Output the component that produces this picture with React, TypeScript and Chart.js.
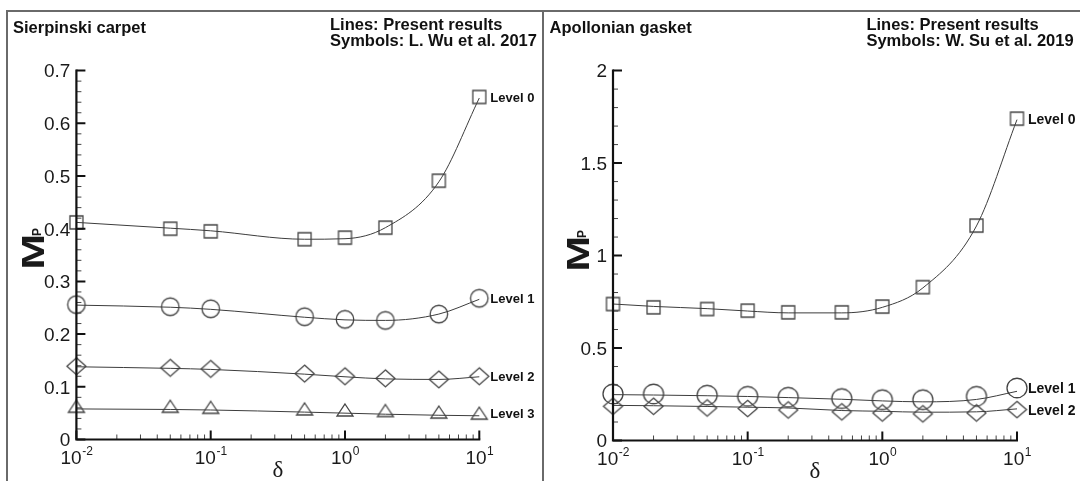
import React, { useEffect, useRef } from "react";
import { Chart, registerables } from "chart.js";
Chart.register(...registerables);

const SANS = '"Liberation Sans", Arial, Helvetica, sans-serif';
const SERIF = '"Liberation Serif", "Times New Roman", serif';

// ---------- Sierpinski carpet (left panel) ----------
const sierpDelta = [0.01, 0.05, 0.1, 0.5, 1, 2, 5, 10];
const sierpL0Sym = [0.412, 0.4, 0.395, 0.38, 0.383, 0.402, 0.491, 0.65];
const sierpL0Line = [0.412, 0.401, 0.396, 0.38, 0.381, 0.402, 0.489, 0.648];
const sierpL1Sym = [0.256, 0.252, 0.248, 0.233, 0.228, 0.226, 0.238, 0.268];
const sierpL1Line = [0.255, 0.251, 0.247, 0.232, 0.227, 0.226, 0.238, 0.266];
const sierpL2Sym = [0.139, 0.136, 0.134, 0.125, 0.12, 0.116, 0.114, 0.12];
const sierpL2Line = [0.138, 0.135, 0.133, 0.124, 0.119, 0.115, 0.114, 0.119];
const sierpL3Sym = [0.063, 0.063, 0.061, 0.058, 0.056, 0.055, 0.052, 0.05];
const sierpL3Line = [0.058, 0.057, 0.056, 0.052, 0.05, 0.048, 0.046, 0.045];
const sierpYMajor = [0, 0.1, 0.2, 0.3, 0.4, 0.5, 0.6, 0.7];
const sierpYLabels = ["0", "0.1", "0.2", "0.3", "0.4", "0.5", "0.6", "0.7"];
const sierpYMinorStep = 0.02;

// ---------- Apollonian gasket (right panel) ----------
const apolDelta = [0.01, 0.02, 0.05, 0.1, 0.2, 0.5, 1, 2, 5, 10];
const apolL0Sym = [0.738, 0.72, 0.711, 0.702, 0.693, 0.693, 0.724, 0.829, 1.162, 1.74];
const apolL0Line = [0.738, 0.725, 0.713, 0.7, 0.69, 0.69, 0.72, 0.825, 1.16, 1.735];
const apolL1Sym = [0.252, 0.252, 0.245, 0.239, 0.234, 0.227, 0.221, 0.221, 0.239, 0.284];
const apolL1Line = [0.248, 0.246, 0.242, 0.238, 0.232, 0.223, 0.214, 0.209, 0.222, 0.266];
const apolL2Sym = [0.185, 0.185, 0.176, 0.173, 0.165, 0.155, 0.149, 0.144, 0.149, 0.167];
const apolL2Line = [0.19, 0.188, 0.184, 0.18, 0.176, 0.162, 0.158, 0.153, 0.155, 0.171];
const apolYMajor = [0, 0.5, 1, 1.5, 2];
const apolYLabels = ["0", "0.5", "1", "1.5", "2"];
const apolYMinorStep = 0.1;

// ---------- shared x axis ----------
const xMajor = [0.01, 0.1, 1, 10];
const xMajorExp = ["-2", "-1", "0", "1"];
const xMinorDecades = [0.01, 0.1, 1];
const xMinorMult = [2, 3, 4, 5, 6, 7, 8, 9];

type SeriesSpec = { line: number[]; sym: number[]; shape: string; mw: number; mh: number; label: string };
type PanelSpec = {
  delta: number[];
  series: SeriesSpec[];
  yMax: number;
  yMajor: number[];
  yLabels: string[];
  yMinorStep: number;
  title: string;
  note1: string;
  note2: string;
  titleX: number;
  noteX: number;
  pad: { left: number; right: number; top: number; bottom: number };
  levelFont: number;
  mpX: number;
  mpY: number;
};

function makeMarker(shape: string, w: number, h: number): HTMLCanvasElement {
  const pad = 2;
  const c = document.createElement("canvas");
  c.width = Math.ceil(w + pad * 2);
  c.height = Math.ceil(h + pad * 2);
  const g = c.getContext("2d")!;
  const cx = c.width / 2, cy = c.height / 2;
  g.strokeStyle = "#444";
  g.lineWidth = 1.3;
  g.beginPath();
  if (shape === "square") g.rect(cx - w / 2, cy - h / 2, w, h);
  else if (shape === "circle") g.ellipse(cx, cy, w / 2, h / 2, 0, 0, Math.PI * 2);
  else if (shape === "diamond") {
    g.moveTo(cx, cy - h / 2);
    g.lineTo(cx + w / 2, cy);
    g.lineTo(cx, cy + h / 2);
    g.lineTo(cx - w / 2, cy);
    g.closePath();
  } else {
    g.moveTo(cx, cy - h / 2);
    g.lineTo(cx + w / 2, cy + h / 2);
    g.lineTo(cx - w / 2, cy + h / 2);
    g.closePath();
  }
  g.stroke();
  return c;
}

function drawDecor(chart: any, s: PanelSpec) {
  const ctx: CanvasRenderingContext2D = chart.ctx;
  const xs = chart.scales.x, ys = chart.scales.y;
  const L = xs.getPixelForValue(0.01);
  const R = xs.getPixelForValue(10);
  const B = ys.getPixelForValue(0);
  const T = ys.getPixelForValue(s.yMax);
  ctx.save();
  // minor ticks
  ctx.strokeStyle = "#444";
  ctx.lineWidth = 1;
  const ratio = Math.round((s.yMajor[1] - s.yMajor[0]) / s.yMinorStep);
  const nMinor = Math.round(s.yMax / s.yMinorStep);
  ctx.beginPath();
  for (let i = 1; i < nMinor; i++) {
    if (i % ratio === 0) continue;
    const y = ys.getPixelForValue(i * s.yMinorStep);
    ctx.moveTo(L, y);
    ctx.lineTo(L + 5, y);
  }
  for (const d of xMinorDecades) {
    for (const k of xMinorMult) {
      const x = xs.getPixelForValue(d * k);
      ctx.moveTo(x, B);
      ctx.lineTo(x, B - 5);
    }
  }
  ctx.stroke();
  // major ticks
  ctx.strokeStyle = "#111";
  ctx.lineWidth = 2;
  ctx.beginPath();
  for (const v of s.yMajor) {
    const y = ys.getPixelForValue(v);
    ctx.moveTo(L, y);
    ctx.lineTo(L + 9, y);
  }
  for (const v of xMajor) {
    const x = xs.getPixelForValue(v);
    ctx.moveTo(x, B);
    ctx.lineTo(x, B - 9);
  }
  ctx.stroke();
  // axis lines
  ctx.lineWidth = 2.2;
  ctx.beginPath();
  ctx.moveTo(L, T - 1);
  ctx.lineTo(L, B);
  ctx.lineTo(R + 1, B);
  ctx.stroke();

  // y tick labels
  ctx.fillStyle = "#1a1a1a";
  ctx.font = `19px ${SANS}`;
  ctx.textAlign = "right";
  ctx.textBaseline = "alphabetic";
  s.yMajor.forEach((v, i) => {
    const y = ys.getPixelForValue(v);
    ctx.fillText(s.yLabels[i], L - 6, y + 0.358 * 19);
  });
  // x tick labels
  ctx.textAlign = "left";
  xMajor.forEach((v, i) => {
    const x = xs.getPixelForValue(v);
    ctx.font = `19px ${SANS}`;
    const wb = ctx.measureText("10").width;
    ctx.font = `12px ${SANS}`;
    const we = ctx.measureText(xMajorExp[i]).width;
    const x0 = x - (wb + we) / 2;
    ctx.font = `19px ${SANS}`;
    ctx.fillText("10", x0, B + 24);
    ctx.font = `12px ${SANS}`;
    ctx.fillText(xMajorExp[i], x0 + wb + 0.5, B + 15.5);
  });
  // delta axis title
  ctx.font = `23px ${SERIF}`;
  ctx.textAlign = "center";
  ctx.fillText("δ", (L + R) / 2, B + 37);

  // M_P axis title (rotated, glyph slightly stretched along the text direction as in the source figure)
  ctx.save();
  ctx.translate(s.mpX, s.mpY);
  ctx.rotate(-Math.PI / 2);
  ctx.textAlign = "left";
  const F = 32;
  const capH = 0.716 * F;
  const stretch = 1.35;
  ctx.save();
  ctx.scale(stretch, 1);
  ctx.font = `bold ${F}px ${SANS}`;
  ctx.fillText("M", -2, capH / 2);
  const mw = ctx.measureText("M").width * stretch;
  ctx.restore();
  ctx.font = `bold 12px ${SANS}`;
  ctx.fillText("P", mw - 5, capH / 2 - 3.5);
  ctx.restore();

  // level labels
  ctx.fillStyle = "#111";
  ctx.textAlign = "left";
  ctx.font = `bold ${s.levelFont}px ${SANS}`;
  const last = s.delta.length - 1;
  for (const ser of s.series) {
    const x = xs.getPixelForValue(s.delta[last]);
    const y = ys.getPixelForValue(ser.sym[last]);
    ctx.fillText(ser.label, x + 11, y + 0.358 * s.levelFont);
  }

  // titles
  ctx.font = `bold 16.5px ${SANS}`;
  ctx.fillText(s.title, s.titleX, 32.5);
  ctx.fillText(s.note1, s.noteX, 29.5);
  ctx.fillText(s.note2, s.noteX, 45.5);
  ctx.restore();
}

function makeChart(canvas: HTMLCanvasElement, s: PanelSpec) {
  const datasets: any[] = [];
  for (const ser of s.series) {
    datasets.push({
      type: "line",
      data: s.delta.map((x, i) => ({ x, y: ser.line[i] })),
      borderColor: "#3c3c3c",
      borderWidth: 1,
      pointRadius: 0,
      cubicInterpolationMode: "monotone",
      fill: false,
      clip: false,
    });
  }
  for (const ser of s.series) {
    datasets.push({
      type: "line",
      data: s.delta.map((x, i) => ({ x, y: ser.sym[i] })),
      showLine: false,
      pointStyle: makeMarker(ser.shape, ser.mw, ser.mh),
      pointRadius: 6,
      pointBackgroundColor: "rgba(0,0,0,0)",
      clip: false,
    });
  }
  return new Chart(canvas, {
    type: "line",
    data: { datasets },
    options: {
      responsive: false,
      animation: false,
      devicePixelRatio: 1,
      events: [],
      layout: { padding: s.pad },
      plugins: { legend: { display: false }, tooltip: { enabled: false } },
      scales: {
        x: { type: "logarithmic", min: 0.01, max: 10, display: false },
        y: { type: "linear", min: 0, max: s.yMax, display: false },
      },
    },
    plugins: [{ id: "decor", afterDraw: (c: any) => drawDecor(c, s) }],
  } as any);
}

const leftSpec = (): PanelSpec => ({
  delta: sierpDelta,
  series: [
    { line: sierpL0Line, sym: sierpL0Sym, shape: "square", mw: 13, mh: 13, label: "Level 0" },
    { line: sierpL1Line, sym: sierpL1Sym, shape: "circle", mw: 17.5, mh: 17.5, label: "Level 1" },
    { line: sierpL2Line, sym: sierpL2Sym, shape: "diamond", mw: 19, mh: 17, label: "Level 2" },
    { line: sierpL3Line, sym: sierpL3Sym, shape: "triangle", mw: 16, mh: 12, label: "Level 3" },
  ],
  yMax: 0.7,
  yMajor: sierpYMajor,
  yLabels: sierpYLabels,
  yMinorStep: sierpYMinorStep,
  title: "Sierpinski carpet",
  note1: "Lines: Present results",
  note2: "Symbols: L. Wu et al. 2017",
  titleX: 13,
  noteX: 330,
  pad: { left: 76.4, right: 543 - 479.3, top: 70.6, bottom: 481 - 439.5 },
  levelFont: 13,
  mpX: 33,
  mpY: 267,
});

const rightSpec = (): PanelSpec => ({
  delta: apolDelta,
  series: [
    { line: apolL0Line, sym: apolL0Sym, shape: "square", mw: 13, mh: 13, label: "Level 0" },
    { line: apolL1Line, sym: apolL1Sym, shape: "circle", mw: 20, mh: 19.5, label: "Level 1" },
    { line: apolL2Line, sym: apolL2Sym, shape: "diamond", mw: 19, mh: 16.5, label: "Level 2" },
  ],
  yMax: 2,
  yMajor: apolYMajor,
  yLabels: apolYLabels,
  yMinorStep: apolYMinorStep,
  title: "Apollonian gasket",
  note1: "Lines: Present results",
  note2: "Symbols: W. Su et al. 2019",
  titleX: 6.6,
  noteX: 323.4,
  pad: { left: 70, right: 537 - 474, top: 70.6, bottom: 481 - 440.5 },
  levelFont: 14,
  mpX: 35,
  mpY: 269,
});

export default function App() {
  const leftRef = useRef<HTMLCanvasElement>(null);
  const rightRef = useRef<HTMLCanvasElement>(null);
  useEffect(() => {
    const charts = [makeChart(leftRef.current!, leftSpec()), makeChart(rightRef.current!, rightSpec())];
    return () => charts.forEach((c) => c.destroy());
  }, []);
  const line = (st: React.CSSProperties) => (
    <div style={{ position: "absolute", background: "#6a6a6a", pointerEvents: "none", ...st }} />
  );
  return (
    <div style={{ position: "absolute", left: 0, top: 0, width: 1080, height: 481, background: "#fff", overflow: "hidden" }}>
      <canvas ref={leftRef} width={543} height={481} style={{ position: "absolute", left: 0, top: 0 }} />
      <canvas ref={rightRef} width={537} height={481} style={{ position: "absolute", left: 543, top: 0 }} />
      {line({ left: 6, top: 10, width: 1074, height: 1.5 })}
      {line({ left: 6, top: 10, width: 1.5, height: 471 })}
      {line({ left: 542, top: 10, width: 2, height: 471 })}
    </div>
  );
}
